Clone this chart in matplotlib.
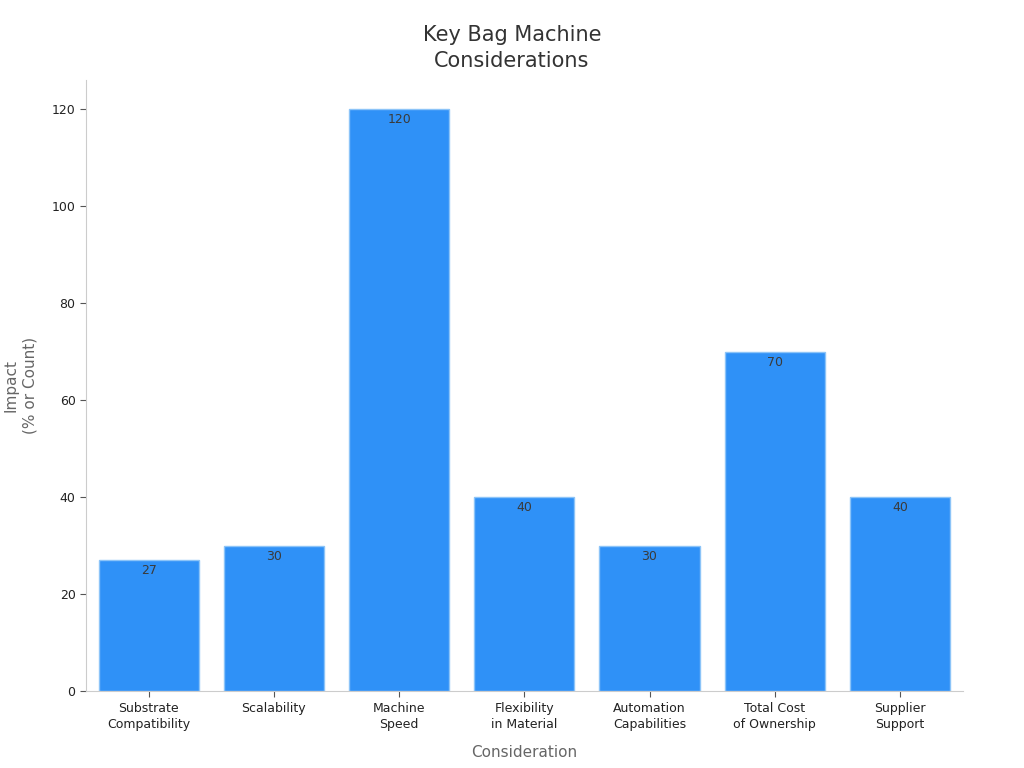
#Bar chart of key bag machine considerations

import matplotlib.pyplot as plt

categories = ["Substrate\nCompatibility", "Scalability", "Machine\nSpeed",
              "Flexibility\nin Material", "Automation\nCapabilities",
              "Total Cost\nof Ownership", "Supplier\nSupport"]
values = [27, 30, 120, 40, 30, 70, 40]

fig = plt.figure(figsize=(10.24, 7.68), dpi=100)
ax = fig.add_axes([0.084, 0.100, 0.856, 0.796])

x = range(len(categories))
bars = ax.bar(x, values, width=0.8, color="#2f91f7", edgecolor="#8cc4f8", linewidth=1)

for i, v in enumerate(values):
    ax.annotate(str(v), (i, v), xytext=(0, -3), textcoords="offset points",
                ha="center", va="top", fontsize=9, color="#3a3a3a")

ax.set_xlim(-0.5, 6.5)
ax.set_ylim(0, 126)
ax.set_xticks(list(x))
ax.set_xticklabels(categories, fontsize=9, color="#222222", linespacing=1.35)
ax.set_yticks([0, 20, 40, 60, 80, 100, 120])
ax.tick_params(axis="y", labelsize=9, colors="#222222")
ax.tick_params(color="#555555", length=4)

for s in ["top", "right"]:
    ax.spines[s].set_visible(False)
for s in ["left", "bottom"]:
    ax.spines[s].set_color("#cccccc")

ax.set_xlabel("Consideration", fontsize=11, color="#666666", labelpad=10)
ax.set_ylabel("Impact\n(% or Count)", fontsize=11, color="#666666", labelpad=10,
              linespacing=1.4)
fig.suptitle("Key Bag Machine\nConsiderations", fontsize=15, color="#333333",
             y=0.968, linespacing=1.4)

plt.savefig("out.png", dpi=100)
plt.close()
